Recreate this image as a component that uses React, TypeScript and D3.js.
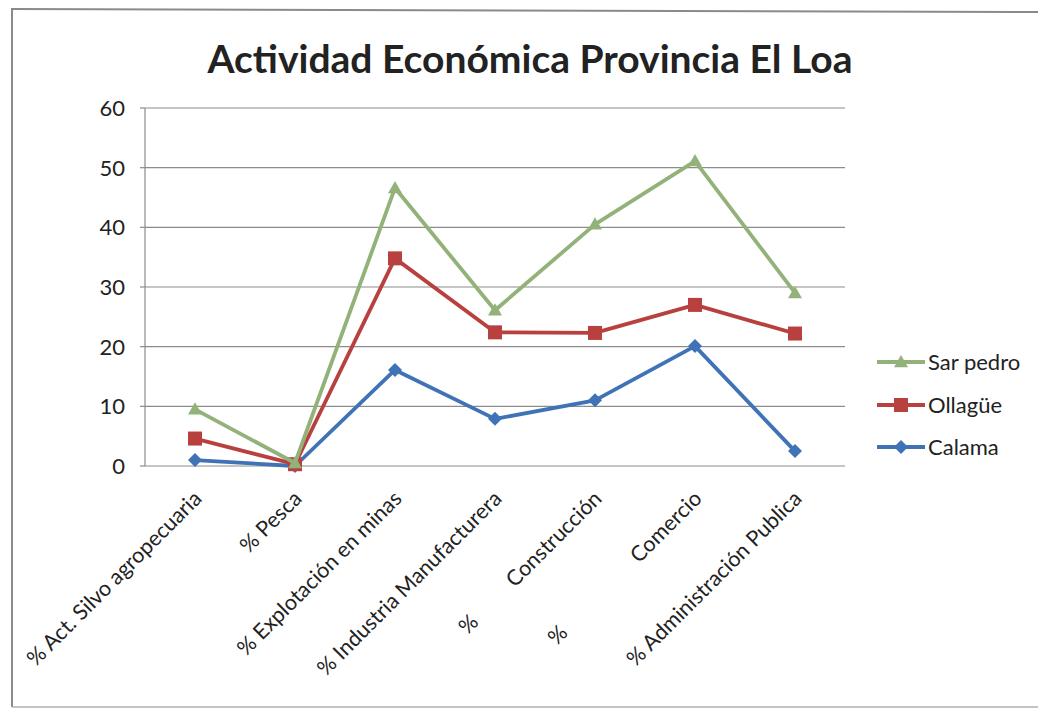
import React from "react";
import * as d3 from "d3";

const categories = [
  "% Act. Silvo agropecuaria",
  "% Pesca",
  "% Explotación en minas",
  "% Industria Manufacturera",
  "%         Construcción",
  "%                  Comercio",
  "% Administración Publica",
];
const sarPedro = [9.5, 0.5, 46.6, 26.1, 40.5, 51.1, 29.0];
const ollague = [4.6, 0.3, 34.8, 22.4, 22.3, 27.0, 22.2];
const calama = [1.0, 0.0, 16.1, 7.9, 11.0, 20.1, 2.5];
const yTicks = [0, 10, 20, 30, 40, 50, 60];
const title = "Actividad Económica Provincia El Loa";

const series = [
  { name: "Sar pedro", values: sarPedro, color: "#93b27a", marker: "triangle" },
  { name: "Ollagüe", values: ollague, color: "#b8403e", marker: "square" },
  { name: "Calama", values: calama, color: "#3f73b6", marker: "diamond" },
];

const FONT = "Lato, 'Open Sans', sans-serif";

function Marker({ type, x, y, color }: { type: string; x: number; y: number; color: string }) {
  if (type === "square") {
    const s = 14;
    return <rect x={x - s / 2} y={y - s / 2} width={s} height={s} fill={color} />;
  }
  if (type === "triangle") {
    const s = 7;
    return <path d={`M${x},${y - s}L${x + s},${y + s * 0.75}L${x - s},${y + s * 0.75}Z`} fill={color} />;
  }
  const s = 7;
  return <path d={`M${x},${y - s}L${x + s},${y}L${x},${y + s}L${x - s},${y}Z`} fill={color} />;
}

export default function App() {
  const W = 1038;
  const H = 709;
  const x = d3.scaleBand<string>().domain(categories).range([145, 845]);
  const y = d3.scaleLinear().domain([0, 60]).range([466, 108]);
  const cx = (c: string) => (x(c) as number) + x.bandwidth() / 2;
  const line = d3
    .line<number>()
    .x((_, i) => cx(categories[i]))
    .y((d) => y(d));

  const legendY = [362, 405, 447];

  return (
    <svg
      width={W}
      height={H}
      style={{ position: "absolute", left: 0, top: 0, background: "#fff" }}
      fontFamily={FONT}
    >
      {/* frame */}
      <line x1={12} y1={8} x2={12} y2={707} stroke="#8a8a8a" strokeWidth={2} />
      <line x1={12} y1={9} x2={W} y2={12} stroke="#8a8a8a" strokeWidth={2} />
      <line x1={12} y1={707} x2={W} y2={707} stroke="#b0b0b0" strokeWidth={1.5} />

      <text x={530} y={73} textAnchor="middle" fontSize={39} fontWeight="bold" fill="#222">
        {title}
      </text>

      {/* gridlines */}
      {yTicks.map((t) => (
        <g key={t}>
          <line x1={145} x2={845} y1={y(t)} y2={y(t)} stroke="#8c8c8c" strokeWidth={1.2} />
          <line x1={140} x2={145} y1={y(t)} y2={y(t)} stroke="#8c8c8c" strokeWidth={1.2} />
          <text x={125} y={y(t) + 8} textAnchor="end" fontSize={22} fill="#222">
            {t}
          </text>
        </g>
      ))}
      <line x1={145} x2={145} y1={y(60)} y2={y(0)} stroke="#8c8c8c" strokeWidth={1.2} />

      {/* category labels */}
      {categories.map((c) => {
        const ax = cx(c) + 8;
        const ay = 500;
        return (
          <text
            key={c}
            x={ax}
            y={ay}
            textAnchor="end"
            fontSize={21.5}
            fill="#222"
            transform={`rotate(-45 ${ax} ${ay})`}
            style={{ whiteSpace: "pre" }}
          >
            {c}
          </text>
        );
      })}

      {/* series */}
      {[...series].reverse().map((s) => (
        <g key={s.name}>
          <path d={line(s.values) || ""} fill="none" stroke={s.color} strokeWidth={3.8} strokeLinejoin="round" />
          {s.values.map((v, i) => (
            <Marker key={i} type={s.marker} x={cx(categories[i])} y={y(v)} color={s.color} />
          ))}
        </g>
      ))}

      {/* legend */}
      {series.map((s, i) => (
        <g key={s.name}>
          <line x1={877} x2={925} y1={legendY[i]} y2={legendY[i]} stroke={s.color} strokeWidth={3.8} />
          <Marker type={s.marker} x={901} y={legendY[i]} color={s.color} />
          <text x={928} y={legendY[i] + 8} fontSize={22} fill="#222">
            {s.name}
          </text>
        </g>
      ))}
    </svg>
  );
}
